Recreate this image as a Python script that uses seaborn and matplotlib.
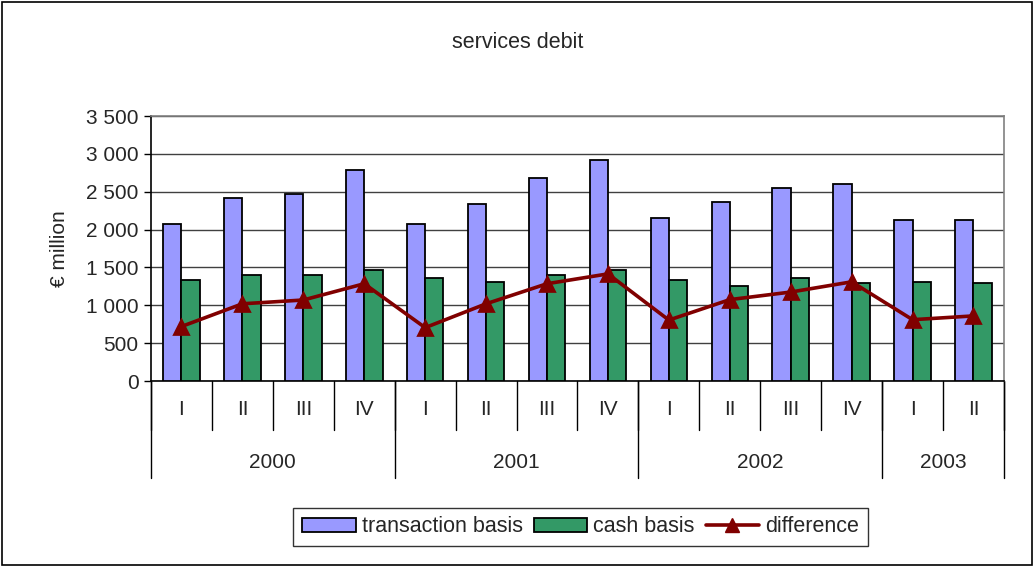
#  services debit: transaction vs cash basis, quarterly 2000-2003

import numpy as np
import pandas as pd
import matplotlib
matplotlib.use('Agg')
import matplotlib.pyplot as plt
from matplotlib.patches import Patch, Rectangle
from matplotlib.lines import Line2D
from matplotlib.ticker import FuncFormatter
import seaborn as sns

# data
years = ['2000', '2001', '2002', '2003']
quarters_per_year = [4, 4, 4, 2]
quarter_names = ['I', 'II', 'III', 'IV', 'I', 'II', 'III', 'IV',
                 'I', 'II', 'III', 'IV', 'I', 'II']
transaction_basis = [2075, 2420, 2470, 2790, 2075, 2340, 2680, 2920,
                     2155, 2370, 2555, 2605, 2125, 2125]
cash_basis = [1335, 1395, 1395, 1465, 1360, 1310, 1395, 1465,
              1335, 1260, 1360, 1290, 1310, 1290]
difference = [720, 1020, 1070, 1285, 705, 1020, 1285, 1415,
              805, 1075, 1175, 1310, 810, 860]

# unique category keys for each quarter
keys = []
for y, n in zip(years, quarters_per_year):
    for q in range(n):
        keys.append(f'{y} {q}')

bars = pd.DataFrame({
    'period': keys * 2,
    'value': transaction_basis + cash_basis,
    'series': ['transaction basis'] * len(keys) + ['cash basis'] * len(keys),
})

blue, green, red = '#9999FF', '#339966', '#800000'

sns.set_style('white')
plt.rcParams['font.family'] = ['Liberation Sans', 'DejaVu Sans']

fig = plt.figure(figsize=(10.35, 5.67), dpi=100)
ax = fig.add_axes([0.1459, 0.328, 0.970 - 0.1459, 0.7954 - 0.328])

sns.barplot(data=bars, x='period', y='value', hue='series', order=keys,
            hue_order=['transaction basis', 'cash basis'],
            palette=[blue, green], saturation=1, width=0.6, gap=0,
            edgecolor='black', linewidth=1.3, legend=False, ax=ax, zorder=3)

sns.pointplot(x=keys, y=difference, order=keys, color=red, markers='^',
              linestyles='-', markersize=10, linewidth=2.6, ax=ax, zorder=5)

ax.set_ylim(0, 3500)
ax.set_xlim(-0.5, len(keys) - 0.5)
ax.set_yticks(np.arange(0, 3501, 500))
ax.yaxis.set_major_formatter(FuncFormatter(lambda v, p: f'{int(v):,}'.replace(',', ' ')))
ax.tick_params(axis='y', which='major', direction='out', length=5, width=1,
               color='black', labelsize=15, pad=4, left=True)
ax.set_xticks([])
ax.set_xlabel('')
ax.set_ylabel('€ million', fontsize=15, labelpad=12)
ax.yaxis.grid(True, color='#404040', linewidth=1)
ax.set_axisbelow(True)

for s in ['top', 'right']:
    ax.spines[s].set_color('#808080')
    ax.spines[s].set_linewidth(1.2)
for s in ['left', 'bottom']:
    ax.spines[s].set_color('black')
    ax.spines[s].set_linewidth(1.2)

# two-level category axis drawn below the plot area
trans = ax.get_xaxis_transform()
low1, low2 = -0.185, -0.366
for i in range(len(keys) + 1):
    ax.plot([i - 0.5, i - 0.5], [0, low1], color='black', lw=1,
            transform=trans, clip_on=False)
for i, name in enumerate(quarter_names):
    ax.text(i, -0.109, name, transform=trans,
            ha='center', va='center', fontsize=15)
start = 0
for y, n in zip(years, quarters_per_year):
    ax.plot([start - 0.5, start - 0.5], [0, low2], color='black', lw=1,
            transform=trans, clip_on=False)
    ax.text(start + (n - 1) / 2, -0.306, y, transform=trans,
            ha='center', va='center', fontsize=15)
    start += n
ax.plot([start - 0.5, start - 0.5], [0, low2], color='black', lw=1,
        transform=trans, clip_on=False)

fig.text(0.5, 1 - 42 / 567, 'services debit', ha='center', va='center', fontsize=15.5)

handles = [Patch(facecolor=blue, edgecolor='black', linewidth=1.3),
           Patch(facecolor=green, edgecolor='black', linewidth=1.3),
           Line2D([], [], color=red, lw=2.6, marker='^', markersize=10)]
leg = fig.legend(handles, ['transaction basis', 'cash basis', 'difference'],
                 loc='center', bbox_to_anchor=(0.561, 1 - 527 / 567), ncol=3,
                 fontsize=15.5, frameon=True, fancybox=False, edgecolor='black',
                 handlelength=2.5, handleheight=0.6, handletextpad=0.28,
                 columnspacing=0.5, borderpad=0.4)
leg.get_frame().set_linewidth(1)

fig.patches.append(Rectangle((0.002, 0.003), 0.995, 0.994, transform=fig.transFigure,
                             fill=False, edgecolor='black', linewidth=1.2))

fig.savefig('out.png', dpi=100)
